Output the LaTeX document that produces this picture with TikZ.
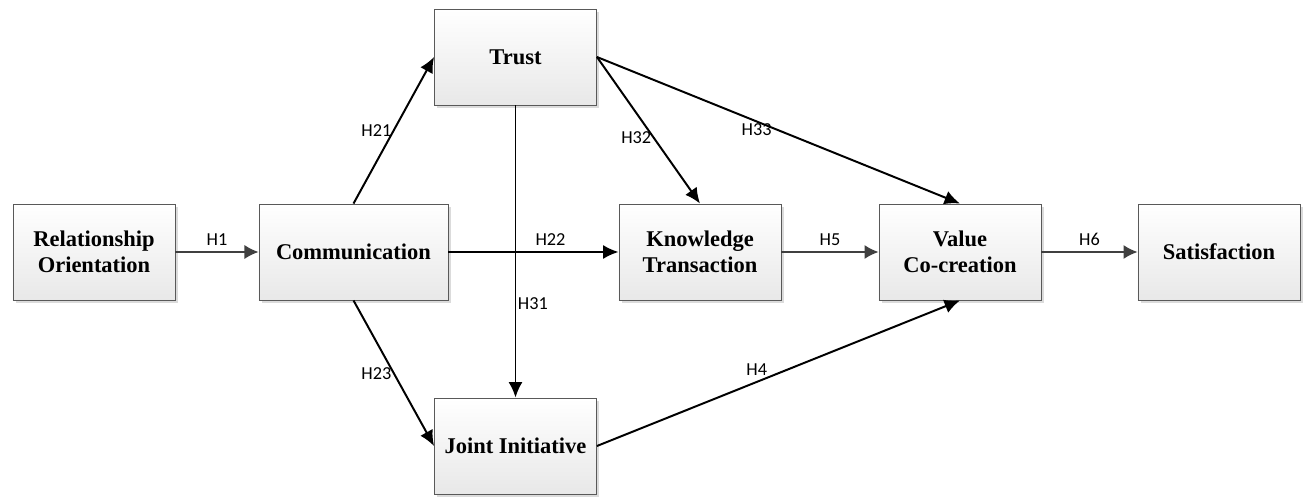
\documentclass[tikz,border=0pt]{standalone}
\usepackage{fontspec}
\setmainfont{Liberation Serif}
\newfontfamily\labelfont{Carlito}
\usetikzlibrary{arrows.meta,shadows}

\begin{document}
\begin{tikzpicture}[x=0.025cm, y=-0.025cm,
	box/.style={draw=black!65, line width=0.6pt, top color=white, bottom color=black!9,
		drop shadow={shadow xshift=0.07cm, shadow yshift=-0.07cm, fill=black!14, opacity=1},
		minimum width=4.05cm, minimum height=2.4cm, align=center,
		font=\bfseries\fontsize{16}{18.5}\selectfont},
	hyp/.style={line width=1.4pt, -{Latex[length=11pt, width=10pt]}},
	link/.style={draw=black!75, line width=1.1pt, -{Latex[length=10pt, width=10pt]}, color=black!75},
	lab/.style={font=\labelfont\fontsize{13}{13}\selectfont, text=black, inner sep=1pt}]
	
	\useasboundingbox (0,0) rectangle (1304,497);
	
	% Konstrukte
	\node[box] (rel) at (94,252) {Relationship\\Orientation};
	\node[box, minimum width=4.725cm] (com) at (353.5,252) {Communication};
	\node[box] (tru) at (515.5,57) {Trust};
	\node[box] (kno) at (700,252) {Knowledge\\Transaction};
	\node[box] (val) at (960,252) {Value\\Co-creation};
	\node[box] (sat) at (1219,252) {Satisfaction};
	\node[box] (joi) at (515.5,446) {Joint Initiative};
	
	% Hypothesen Communication
	\draw[link] (rel) -- node[lab, above=3pt] {H1} (com);
	\draw[hyp] (com.north) -- node[lab, left] {H21} (tru.west);
	\draw[hyp] (com) -- node[lab, above=3pt, pos=0.6] {H22} (kno);
	\draw[hyp] (com.south) -- node[lab, left] {H23} (joi.west);
	
	% Hypothesen Trust
	\draw[hyp] (tru) -- node[lab, right, pos=0.68] {H31} (joi);
	\draw[hyp] (tru.east) -- node[lab, left, pos=0.55] {H32} (kno.north);
	\draw[hyp] (tru.east) -- node[lab, below, pos=0.44] {H33} (val.north);
	
	% Value Co-creation
	\draw[hyp] (joi.east) -- node[lab, above=3pt, pos=0.44] {H4} (val.south);
	\draw[link] (kno) -- node[lab, above=3pt] {H5} (val);
	\draw[link] (val) -- node[lab, above=3pt] {H6} (sat);
	
\end{tikzpicture}
\end{document}
